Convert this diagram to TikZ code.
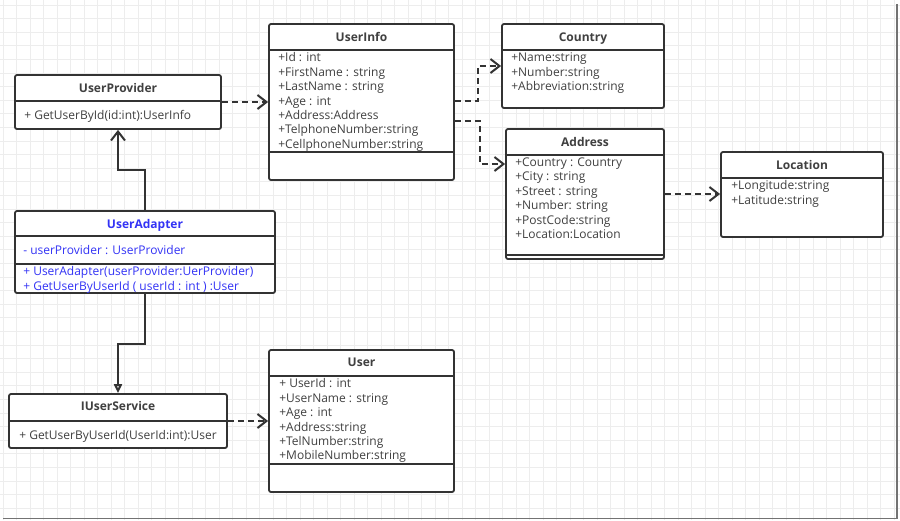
\documentclass[tikz,border=0pt]{standalone}
\usepackage{fontspec}
\setmainfont{Open Sans}
\usetikzlibrary{arrows.meta}
\definecolor{boxline}{HTML}{333333}
\definecolor{umltext}{HTML}{404040}
\definecolor{umlblue}{RGB}{51,51,245}
\definecolor{gridcol}{HTML}{EDEDED}
\tikzset{
  umlclass/.style={draw=boxline,line width=1.8pt,rounded corners=2pt,fill=white,inner sep=0pt},
  umlsep/.style={draw=boxline,line width=1.6pt},
  umltitle/.style={font=\fontsize{12}{14}\selectfont\bfseries,text=umltext,anchor=base,inner sep=0pt},
  umlattr/.style={font=\fontsize{12}{14.4}\selectfont,text=umltext,align=left,anchor=north west,inner sep=0pt},
  depend/.style={draw=boxline,line width=2pt,dash pattern=on 6pt off 4pt,-{Straight Barb[length=9pt,width=14pt]}},
  assoc/.style={draw=boxline,line width=2pt,-{Straight Barb[length=9pt,width=14pt]}},
  realize/.style={draw=boxline,line width=2pt,-{Triangle[open,length=9pt,width=8pt]}},
}
\begin{document}
\begin{tikzpicture}[x=1pt,y=-1pt]
	\useasboundingbox (0,0) rectangle (900,520);
	% background grid and shadow
	\fill[white] (0,0) rectangle (900,520);
	\foreach \gx in {3,16.5,...,899} \draw[gridcol,line width=0.8pt] (\gx,0) -- (\gx,520);
	\foreach \gy in {5,18.6,...,519} \draw[gridcol,line width=0.8pt] (0,\gy) -- (900,\gy);
	\draw[black!55,line width=1.5pt] (897,4) -- (897,518.5) -- (3,518.5);
	% UserProvider
	\node[umlclass,minimum width=206,minimum height=54] (provider) at (118,102) {};
	\draw[umlsep] ([yshift=-27]provider.north west) -- ([yshift=-27]provider.north east);
	\node[umltitle] (provider-name) at ([yshift=-18]provider.north) {UserProvider};
	\node[umlattr] (provider-ops) at ([xshift=10,yshift=-36.5]provider.north west) {+ GetUserById(id:int):UserInfo};
	% UserAdapter
	\node[umlclass,minimum width=260,minimum height=82] (adapter) at (145,252) {};
	\draw[umlsep] ([yshift=-26]adapter.north west) -- ([yshift=-26]adapter.north east);
	\draw[umlsep] ([yshift=-54]adapter.north west) -- ([yshift=-54]adapter.north east);
	\node[umltitle,text=umlblue] (adapter-name) at ([yshift=-18]adapter.north) {UserAdapter};
	\node[umlattr,text=umlblue] (adapter-attrs) at ([xshift=9,yshift=-35.5]adapter.north west) {- userProvider : UserProvider};
	\node[umlattr,text=umlblue] (adapter-ops) at ([xshift=9,yshift=-56.5]adapter.north west) {+ UserAdapter(userProvider:UerProvider)\\+ GetUserByUserId ( userId : int ) :User};
	% IUserService
	\node[umlclass,minimum width=218,minimum height=54] (iservice) at (118,421) {};
	\draw[umlsep] ([yshift=-28]iservice.north west) -- ([yshift=-28]iservice.north east);
	\node[umltitle] (iservice-name) at ([yshift=-17.5]iservice.north) {IUserService};
	\node[umlattr] (iservice-ops) at ([xshift=11,yshift=-37.5]iservice.north west) {+ GetUserByUserId(UserId:int):User};
	% UserInfo
	\node[umlclass,minimum width=185,minimum height=156] (userinfo) at (361.5,102) {};
	\draw[umlsep] ([yshift=-27]userinfo.north west) -- ([yshift=-27]userinfo.north east);
	\draw[umlsep] ([yshift=-129]userinfo.north west) -- ([yshift=-129]userinfo.north east);
	\node[umltitle] (userinfo-name) at ([yshift=-18]userinfo.north) {UserInfo};
	\node[umlattr] (userinfo-attrs) at ([xshift=10,yshift=-29.5]userinfo.north west) {+Id : int\\+FirstName : string\\+LastName : string\\+Age : int\\+Address:Address\\+TelphoneNumber:string\\+CellphoneNumber:string};
	% User
	\node[umlclass,minimum width=185,minimum height=142] (user) at (361.5,421) {};
	\draw[umlsep] ([yshift=-27]user.north west) -- ([yshift=-27]user.north east);
	\draw[umlsep] ([yshift=-115]user.north west) -- ([yshift=-115]user.north east);
	\node[umltitle] (user-name) at ([yshift=-17]user.north) {User};
	\node[umlattr] (user-attrs) at ([xshift=11,yshift=-29.5]user.north west) {+ UserId : int\\+UserName : string\\+Age : int\\+Address:string\\+TelNumber:string\\+MobileNumber:string};
	% Country
	\node[umlclass,minimum width=162,minimum height=84] (country) at (583,66) {};
	\draw[umlsep] ([yshift=-27]country.north west) -- ([yshift=-27]country.north east);
	\node[umltitle] (country-name) at ([yshift=-18]country.north) {Country};
	\node[umlattr] (country-attrs) at ([xshift=10,yshift=-29.5]country.north west) {+Name:string\\+Number:string\\+Abbreviation:string};
	% Address
	\node[umlclass,minimum width=158,minimum height=130] (address) at (585,194) {};
	\draw[umlsep] ([yshift=-27]address.north west) -- ([yshift=-27]address.north east);
	\draw[umlsep] ([yshift=-127]address.north west) -- ([yshift=-127]address.north east);
	\node[umltitle] (address-name) at ([yshift=-18]address.north) {Address};
	\node[umlattr] (address-attrs) at ([xshift=10,yshift=-29.5]address.north west) {+Country : Country\\+City : string\\+Street : string\\+Number: string\\+PostCode:string\\+Location:Location};
	% Location
	\node[umlclass,minimum width=162,minimum height=85] (location) at (802,194.5) {};
	\draw[umlsep] ([yshift=-27]location.north west) -- ([yshift=-27]location.north east);
	\node[umltitle] (location-name) at ([yshift=-18]location.north) {Location};
	\node[umlattr] (location-attrs) at ([xshift=11,yshift=-29.5]location.north west) {+Longitude:string\\+Latitude:string};
	% connectors
	\draw[depend] (provider.east) -- (provider.east -| userinfo.west);
	\draw[assoc] (adapter.north) -- ++(0,-40) -| (provider.south);
	\draw[realize] (adapter.south) -- ++(0,50) -| (iservice.north);
	\draw[depend] (iservice.east) -- (iservice.east -| user.west);
	\draw[depend] ([yshift=1]userinfo.east) -- ++(23,0) |- (country.west);
	\draw[depend] ([yshift=-19]userinfo.east) -- ++(25,0) |- ([yshift=30]address.west);
	\draw[depend] (address.east) -- (address.east -| location.west);
\end{tikzpicture}
\end{document}
